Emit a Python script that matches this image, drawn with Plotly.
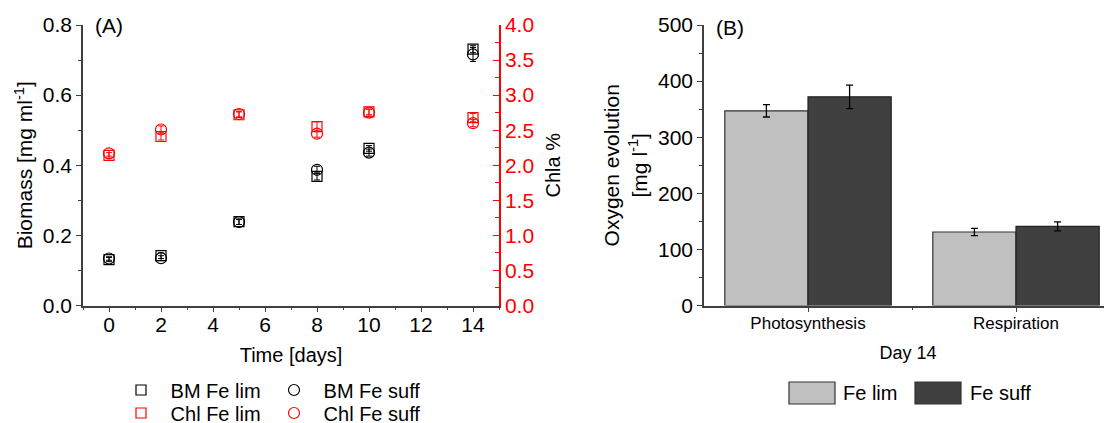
import plotly.graph_objects as go

# ---------------- data ----------------
days = [0, 2, 5, 8, 10, 14]
bm_fe_lim = [0.131, 0.142, 0.239, 0.368, 0.448, 0.731]
bm_fe_lim_err = [0.006, 0.008, 0.008, 0.010, 0.008, 0.010]
bm_fe_suff = [0.134, 0.135, 0.238, 0.387, 0.436, 0.716]
bm_fe_suff_err = [0.005, 0.007, 0.007, 0.010, 0.010, 0.020]
chl_fe_lim = [2.14, 2.41, 2.72, 2.55, 2.76, 2.68]
chl_fe_lim_err = [0.04, 0.05, 0.04, 0.07, 0.04, 0.06]
chl_fe_suff = [2.17, 2.51, 2.73, 2.45, 2.75, 2.60]
chl_fe_suff_err = [0.04, 0.05, 0.04, 0.05, 0.05, 0.05]

categories = ["Photosynthesis", "Respiration"]
o2_fe_lim = [347, 131]
o2_fe_lim_err = [11, 6.5]
o2_fe_suff = [372, 141]
o2_fe_suff_err = [21, 8]

OFF = 8  # default page body margin
W, H = 1112 - OFF, 432
FONT = "Liberation Sans, Arial, sans-serif"
AX = "#404040"
RED = "#ff0000"


def px(x):
    return (x - OFF) / W


def py(y):
    return 1 - (y - OFF) / H


fig = go.Figure()


def scat(x, y, err, name, symbol, color, yaxis, legend, size):
    fig.add_trace(go.Scatter(
        x=x, y=y, mode="markers", name="\u00a0\u2009" + name,
        marker=dict(symbol=symbol, size=size, color=color,
                    line=dict(color=color, width=1.2)),
        error_y=dict(type="data", array=err, visible=True, color=color,
                     thickness=1, width=3),
        xaxis="x", yaxis=yaxis, legend=legend, cliponaxis=False,
    ))


scat(days, bm_fe_lim, bm_fe_lim_err, "BM Fe lim", "square-open", "#000000", "y", "legend", 10)
scat(days, bm_fe_suff, bm_fe_suff_err, "BM Fe suff", "circle-open", "#000000", "y", "legend", 11)
scat(days, chl_fe_lim, chl_fe_lim_err, "Chl Fe lim", "square-open", RED, "y2", "legend2", 10)
scat(days, chl_fe_suff, chl_fe_suff_err, "Chl Fe suff", "circle-open", RED, "y2", "legend2", 11)

xpos = list(range(len(categories)))
fig.add_trace(go.Bar(
    x=xpos, y=o2_fe_lim, name="Fe lim", xaxis="x2", yaxis="y3",
    marker=dict(color="#c0c0c0", line=dict(color="#333333", width=1.2)),
    error_y=dict(type="data", array=o2_fe_lim_err, visible=True,
                 color="#000000", thickness=1.3, width=3.5),
    showlegend=False, offsetgroup="a",
))
fig.add_trace(go.Bar(
    x=xpos, y=o2_fe_suff, name="Fe suff", xaxis="x2", yaxis="y3",
    marker=dict(color="#404040", line=dict(color="#222222", width=1.2)),
    error_y=dict(type="data", array=o2_fe_suff_err, visible=True,
                 color="#000000", thickness=1.3, width=3.5),
    showlegend=False, offsetgroup="b",
))

ydom = [py(305.5), py(25)]
tickfont = dict(family=FONT, size=21, color="#000000")

fig.update_layout(
    width=W, height=H, autosize=False,
    margin=dict(l=0, r=0, t=0, b=0, pad=0),
    paper_bgcolor="white", plot_bgcolor="white",
    font=dict(family=FONT, size=20, color="#000000"),
    barmode="group", bargap=0.2, bargroupgap=0,
    xaxis=dict(
        domain=[px(83), px(499)], range=[-1, 15], anchor="y",
        tickmode="linear", tick0=0, dtick=2,
        ticks="outside", ticklen=5, tickwidth=1.2, tickcolor=AX,
        minor=dict(dtick=1, tick0=-1, ticks="outside", ticklen=3, tickcolor=AX, tickwidth=1.2),
        showline=True, linecolor=AX, linewidth=1.5, showgrid=False, zeroline=False,
        tickfont=tickfont, ticklabelstandoff=-5,
        title=dict(text="Time [days]", font=dict(family=FONT, size=20), standoff=13),
        automargin=False,
    ),
    yaxis=dict(
        domain=ydom, range=[0, 0.8], anchor="x",
        tickmode="linear", tick0=0, dtick=0.2, tickformat=".1f",
        ticks="outside", ticklen=5, tickwidth=1.2, tickcolor=AX,
        minor=dict(dtick=0.1, ticks="outside", ticklen=3, tickcolor=AX, tickwidth=1.2),
        showline=True, linecolor=AX, linewidth=1.5, showgrid=False, zeroline=False,
        tickfont=tickfont,
        title=dict(text="Biomass [mg ml<sup>-1</sup>]", font=dict(family=FONT, size=21), standoff=4),
        automargin=False,
    ),
    yaxis2=dict(
        overlaying="y", side="right", anchor="x", range=[0, 4.0],
        tickmode="linear", tick0=0, dtick=0.5, tickformat=".1f",
        ticks="inside", ticklen=6, tickwidth=1.2, tickcolor=RED,
        minor=dict(dtick=0.25, ticks="inside", ticklen=4, tickcolor=RED, tickwidth=1.2),
        showline=True, linecolor=RED, linewidth=1.5, showgrid=False, zeroline=False,
        tickfont=dict(family=FONT, size=21, color=RED),
        title=dict(text="Chla %", font=dict(family=FONT, size=20, color="#000000"), standoff=13),
        automargin=False,
    ),
    xaxis2=dict(
        domain=[px(704), 1.0], range=[-0.5, -0.5 + 408 / 208], anchor="y3",
        tickmode="array", tickvals=xpos, ticktext=categories,
        ticks="outside", ticklen=5, tickwidth=1.2, tickcolor=AX,
        minor=dict(tickvals=[0.5], ticks="outside", ticklen=3, tickcolor=AX, tickwidth=1.2),
        showline=True, linecolor=AX, linewidth=1.5, showgrid=False, zeroline=False,
        tickfont=dict(family=FONT, size=17, color="#000000"),
        ticklabelstandoff=-4,
        title=dict(text="Day 14", font=dict(family=FONT, size=18), standoff=15),
        automargin=False,
    ),
    yaxis3=dict(
        domain=ydom, range=[0, 500], anchor="x2",
        tickmode="linear", tick0=0, dtick=100,
        ticks="outside", ticklen=5, tickwidth=1.2, tickcolor=AX,
        minor=dict(dtick=50, ticks="outside", ticklen=3, tickcolor=AX, tickwidth=1.2),
        showline=True, linecolor=AX, linewidth=1.5, showgrid=False, zeroline=False,
        tickfont=tickfont,
        title=dict(text="Oxygen evolution<br>[mg l<sup>-1</sup>]", font=dict(family=FONT, size=21), standoff=5),
        automargin=False,
    ),
    legend=dict(
        orientation="h", x=px(121), y=py(390), xanchor="left", yanchor="middle",
        font=dict(family=FONT, size=20), entrywidth=108, entrywidthmode="pixels",
        bgcolor="rgba(0,0,0,0)", borderwidth=0, itemsizing="trace",
        traceorder="normal",
    ),
    legend2=dict(
        orientation="h", x=px(121), y=py(413), xanchor="left", yanchor="middle",
        font=dict(family=FONT, size=20), entrywidth=108, entrywidthmode="pixels",
        bgcolor="rgba(0,0,0,0)", borderwidth=0, itemsizing="trace",
        traceorder="normal",
    ),
)

# panel labels
fig.add_annotation(text="(A)", xref="paper", yref="paper", x=px(93), y=py(26),
                   xanchor="left", yanchor="middle", showarrow=False,
                   font=dict(family=FONT, size=21))
fig.add_annotation(text="(B)", xref="paper", yref="paper", x=px(714), y=py(28),
                   xanchor="left", yanchor="middle", showarrow=False,
                   font=dict(family=FONT, size=21))

# legend for panel B (swatches + labels)
leg_items = [("Fe lim", "#c0c0c0", 789, 841), ("Fe suff", "#404040", 915, 968)]
for label, col, x0, tx in leg_items:
    fig.add_shape(type="rect", xref="paper", yref="paper",
                  x0=px(x0), x1=px(x0 + 46), y0=py(404), y1=py(382),
                  fillcolor=col, line=dict(color="#333333", width=1.2))
    fig.add_annotation(text=label, xref="paper", yref="paper", x=px(tx), y=py(393),
                       xanchor="left", yanchor="middle", showarrow=False,
                       font=dict(family=FONT, size=20))

fig.write_html("out.html")
